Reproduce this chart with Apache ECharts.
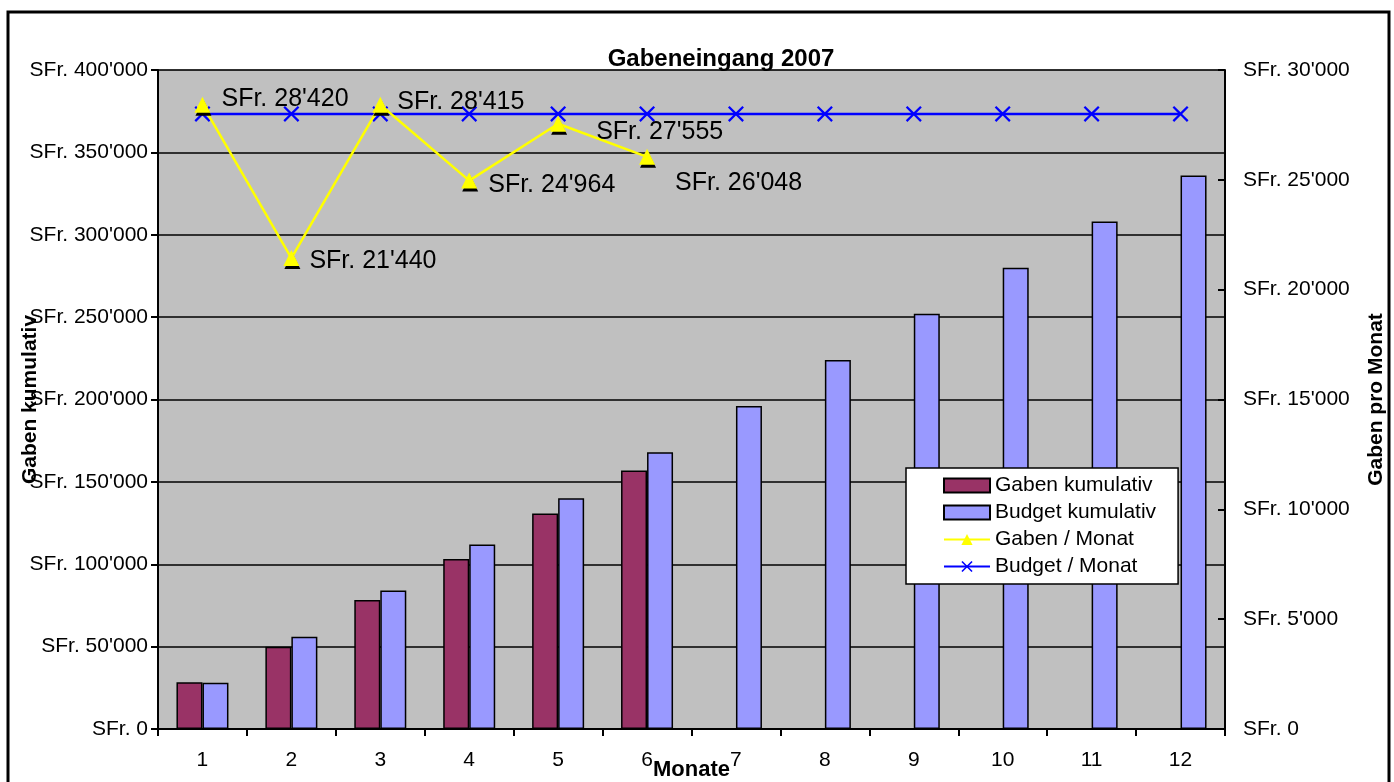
<!DOCTYPE html>
<html>
<head>
<meta charset="utf-8">
<script src="https://cdn.jsdelivr.net/npm/echarts@6/dist/echarts.min.js"></script>
<style>
  html, body { margin: 0; padding: 0; background: #fff; }
  #main { width: 1394px; height: 782px; }
</style>
</head>
<body>
<div id="main"></div>
<script>
// Monate
var months = ['1', '2', '3', '4', '5', '6', '7', '8', '9', '10', '11', '12'];
// Saeulen (linke Achse)
var gabenKumulativ = [28420, 49860, 78275, 103239, 130794, 156842];
var budgetKumulativ = [28000, 56000, 84000, 112000, 140000, 168000, 196000, 224000, 252000, 280000, 308000, 336000];
// Linien (rechte Achse)
var gabenMonat = [28420, 21440, 28415, 24964, 27555, 26048];
var budgetMonat = [28000, 28000, 28000, 28000, 28000, 28000, 28000, 28000, 28000, 28000, 28000, 28000];

// Verschiebung der Datenbeschriftungen (wie im Excel-Original)
var labelShift = [[6, -6], [5, 3], [4, -3], [6, 4], [25, 8], [15, 26]];

var FONT = '"Liberation Sans", Arial, sans-serif';

function sfr(v) {
  var s = String(Math.round(v));
  return 'SFr. ' + s.replace(/\B(?=(\d{3})+(?!\d))/g, "'");
}

var chart = echarts.init(document.getElementById('main'));

var option = {
  backgroundColor: '#fff',
  animation: false,
  textStyle: { fontFamily: FONT },
  title: {
    text: 'Gabeneingang 2007',
    left: 716,
    top: 42,
    textAlign: 'center',
    textStyle: { fontFamily: FONT, fontSize: 24, fontWeight: 'bold', color: '#000' }
  },
  graphic: [{
    type: 'rect',
    shape: { x: 8, y: 12, width: 1381, height: 800 },
    style: { fill: 'none', stroke: '#000', lineWidth: 3 },
    silent: true,
    z: 100
  }],
  legend: {
    orient: 'vertical',
    left: 906,
    top: 468,
    backgroundColor: '#fff',
    borderColor: '#000',
    borderWidth: 1.5,
    padding: [7, 22, 7, 37],
    itemWidth: 46,
    itemHeight: 14,
    itemGap: 6,
    textStyle: { fontFamily: FONT, fontSize: 21, color: '#000' },
    data: [
      { name: 'Gaben kumulativ', icon: 'rect' },
      { name: 'Budget kumulativ', icon: 'rect' },
      'Gaben / Monat',
      'Budget / Monat'
    ]
  },
  grid: {
    left: 158,
    right: 169,
    top: 70,
    bottom: 53,
    outerBoundsMode: 'none',
    containLabel: false,
    show: true,
    backgroundColor: '#C0C0C0',
    borderColor: '#808080',
    borderWidth: 1
  },
  xAxis: {
    type: 'category',
    data: months,
    boundaryGap: true,
    name: 'Monate',
    nameLocation: 'middle',
    nameGap: 30,
    nameMoveOverlap: false,
    nameTextStyle: { fontFamily: FONT, fontSize: 22, fontWeight: 'bold', color: '#000' },
    axisLine: { lineStyle: { color: '#000', width: 2 } },
    axisTick: { show: true, length: 7, lineStyle: { color: '#000', width: 2 } },
    axisLabel: { margin: 21, fontFamily: FONT, fontSize: 21, color: '#000' }
  },
  yAxis: [{
    type: 'value',
    min: 0,
    max: 400000,
    interval: 50000,
    name: 'Gaben kumulativ',
    nameLocation: 'middle',
    nameRotate: 90,
    nameGap: 117,
    nameMoveOverlap: false,
    nameTextStyle: { fontFamily: FONT, fontSize: 21, fontWeight: 'bold', color: '#000' },
    axisLine: { show: true, lineStyle: { color: '#000', width: 2 } },
    axisTick: { show: true, length: 7, lineStyle: { color: '#000', width: 2 } },
    axisLabel: { margin: 10, fontFamily: FONT, fontSize: 21, color: '#000', formatter: sfr },
    splitLine: { show: true, lineStyle: { color: '#000', width: 1.5 } }
  }, {
    type: 'value',
    min: 0,
    max: 30000,
    interval: 5000,
    name: 'Gaben pro Monat',
    nameLocation: 'middle',
    nameRotate: 90,
    nameGap: 141,
    nameMoveOverlap: false,
    nameTextStyle: { fontFamily: FONT, fontSize: 21, fontWeight: 'bold', color: '#000' },
    axisLine: { show: true, lineStyle: { color: '#000', width: 2 } },
    axisTick: { show: true, inside: true, length: 7, lineStyle: { color: '#000', width: 2 } },
    axisLabel: { margin: 18, fontFamily: FONT, fontSize: 21, color: '#000', formatter: sfr },
    splitLine: { show: false }
  }],
  series: [{
    name: 'Gaben kumulativ',
    type: 'bar',
    yAxisIndex: 0,
    data: gabenKumulativ,
    barWidth: 26,
    barGap: '0%',
    itemStyle: { color: '#993366', borderColor: '#000', borderWidth: 1.5 }
  }, {
    name: 'Budget kumulativ',
    type: 'bar',
    yAxisIndex: 0,
    data: budgetKumulativ,
    barWidth: 26,
    barGap: '0%',
    itemStyle: { color: '#9999FF', borderColor: '#000', borderWidth: 1.5 }
  }, {
    name: 'Budget / Monat',
    type: 'line',
    yAxisIndex: 1,
    data: budgetMonat,
    symbol: 'path://M0,1L1,0L5,4L9,0L10,1L6,5L10,9L9,10L5,6L1,10L0,9L4,5Z',
    symbolSize: 16,
    lineStyle: { color: '#0000FF', width: 2.5 },
    itemStyle: { color: '#0000FF' },
    z: 3
  }, {
    name: 'Gaben / Monat',
    type: 'line',
    yAxisIndex: 1,
    data: gabenMonat.map(function (v, i) {
      return { value: v, label: { offset: labelShift[i] } };
    }),
    symbol: 'triangle',
    symbolSize: 16,
    lineStyle: { color: '#FFFF00', width: 2.5 },
    itemStyle: { color: '#FFFF00', shadowColor: '#000', shadowOffsetX: 1, shadowOffsetY: 3 },
    label: {
      show: true,
      position: 'right',
      distance: 5,
      fontFamily: FONT,
      fontSize: 25,
      color: '#000',
      formatter: function (p) { return sfr(p.value); }
    },
    z: 4
  }]
};

chart.setOption(option);
</script>
</body>
</html>
